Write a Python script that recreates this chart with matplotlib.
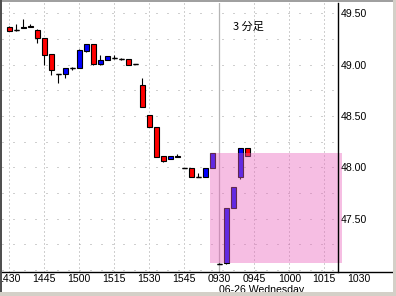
import numpy as np
import matplotlib
matplotlib.use("Agg")
import matplotlib.pyplot as plt
from matplotlib.patches import Rectangle
from matplotlib.lines import Line2D

# ---------------- data ----------------
opens  = [49.37, 49.34, 49.36, 49.375, 49.34, 49.26, 49.10, 48.91, 48.905, 48.965,
          48.97, 49.13, 49.20, 49.01, 49.04, 49.06, 49.05, 49.055, 49.005, 48.80,
          48.51, 48.39, 48.105, 48.08, 48.11, 47.995, 47.995, 47.90, 47.90, 47.99,
          47.055, 47.065, 47.60, 47.90, 48.185]
highs  = [49.38, 49.40, 49.445, 49.40, 49.345, 49.26, 49.10, 48.91, 48.965, 48.98,
          49.15, 49.20, 49.20, 49.095, 49.08, 49.09, 49.065, 49.055, 49.005, 48.87,
          48.51, 48.39, 48.105, 48.105, 48.125, 47.995, 47.995, 47.945, 47.995, 48.14,
          47.07, 47.60, 47.805, 48.185, 48.185]
lows   = [49.33, 49.33, 49.36, 49.365, 49.21, 49.00, 48.90, 48.825, 48.87, 48.95,
          48.97, 49.12, 49.00, 49.00, 49.04, 49.05, 49.045, 49.00, 49.005, 48.59,
          48.39, 48.10, 48.055, 48.08, 48.10, 47.995, 47.90, 47.90, 47.90, 47.99,
          47.055, 47.055, 47.60, 47.89, 48.105]
closes = [49.33, 49.34, 49.37, 49.365, 49.255, 49.09, 48.945, 48.91, 48.965, 48.965,
          49.14, 49.20, 49.005, 49.04, 49.08, 49.06, 49.05, 49.00, 49.005, 48.59,
          48.39, 48.10, 48.065, 48.105, 48.10, 47.995, 47.90, 47.90, 47.995, 48.14,
          47.055, 47.60, 47.805, 48.185, 48.105]

time_labels = ["1430", "1445", "1500", "1515", "1530", "1545",
               "0930", "0945", "1000", "1015", "1030"]
label_step = 5
day_break_index = 30
date_label = "06-26 Wednesday"
price_ticks = [47.50, 48.00, 48.50, 49.00, 49.50]
price_grid = [47.00, 47.25, 47.50, 47.75, 48.00, 48.25, 48.50, 48.75, 49.00, 49.25, 49.50]

range_low, range_high = 47.07, 48.135
range_start, range_end = 28.67, 47.49
title_text = "3 分足"

# ---------------- figure ----------------
W, H = 396, 296
fig = plt.figure(figsize=(W / 100, H / 100), dpi=100)
fig.patch.set_facecolor("white")

ax_left_px, ax_right_px, ax_top_px, ax_bot_px = 2, 338, 3, 272
ax = fig.add_axes([ax_left_px / W, (H - ax_bot_px) / H,
                   (ax_right_px - ax_left_px) / W, (ax_bot_px - ax_top_px) / H])
ax.set_facecolor("white")
ax.set_xlim(-1.043, 46.957)
ax.set_ylim(46.979, 49.600)

FONT = "Liberation Sans"

o = np.array(opens); h = np.array(highs); l = np.array(lows); c = np.array(closes)
x = np.arange(len(o))

# grid
for yv in price_grid:
    ax.axhline(yv, color="#a0a0a0", lw=0.72, dashes=(1, 10), zorder=1)
for i in range(0, 50, label_step):
    if i == day_break_index:
        ax.axvline(i, color="#b4b4b4", lw=0.9, zorder=1)
    else:
        ax.axvline(i, color="#a0a0a0", lw=0.72, dashes=(1, 3), zorder=1)

# candles
ax.vlines(x, l, h, color="black", lw=0.8, zorder=2)
bottoms = np.minimum(o, c)
heights = np.abs(c - o)
cols = np.where(c > o, "#0000ff", "#ff0000")
ax.bar(x, heights, bottom=bottoms, width=0.66, color=cols, edgecolor="black",
       linewidth=0.8, zorder=3)
doji = heights < 0.004
ax.hlines(o[doji], x[doji] - 0.36, x[doji] + 0.36, color="black", lw=1.0, zorder=3)

# range box
ax.add_patch(Rectangle((range_start, range_low), range_end - range_start,
                       range_high - range_low, facecolor=(235 / 255, 100 / 255, 190 / 255),
                       alpha=0.42, edgecolor="none", zorder=4, clip_on=False))

# spines
for s in ["left", "top", "bottom"]:
    ax.spines[s].set_visible(False)
ax.spines["right"].set_color("black")
ax.spines["right"].set_linewidth(1.0)
ax.spines["right"].set_zorder(6)

# y ticks on right
ax.yaxis.tick_right()
ax.set_yticks(price_ticks)
ax.set_yticklabels([f"{v:.2f}" for v in price_ticks], fontsize=7.6, family=FONT)
ax.tick_params(axis="y", length=0, pad=2)
ax.set_xticks([])

# time labels
xt = ax.get_xaxis_transform()
for k, lab in enumerate(time_labels):
    ax.text(k * label_step, -0.027, lab, transform=xt, ha="center", va="center",
            fontsize=7.6, family=FONT, clip_on=False)
ax.text(day_break_index - 0.05, -0.067, date_label, transform=xt, ha="left", va="center",
        fontsize=7.6, family=FONT, clip_on=False)

# title text
ax.text(0.687, 0.911, title_text, transform=ax.transAxes, ha="left", va="center",
        fontsize=8, family=["Noto Sans CJK JP", "DejaVu Sans"], zorder=7)

# bottom axis line across full width
fig.add_artist(Line2D([0, 393 / W], [(H - ax_bot_px) / H] * 2, color="black", lw=1.0,
                      zorder=8))

# window frame
def frame(x0, y0, w, hh, col):
    fig.add_artist(Rectangle((x0 / W, (H - y0 - hh) / H), w / W, hh / H,
                             facecolor=col, edgecolor="none", zorder=10,
                             transform=fig.transFigure))

frame(0, 0, W, 1.5, "#a0a0a0")
frame(0, 0, 1.5, H, "#505050")
frame(393, 0, 3, H, "#d4d0c8")
frame(0, 292, W, 4, "#d4d0c8")

fig.savefig("out.png", dpi=100)
